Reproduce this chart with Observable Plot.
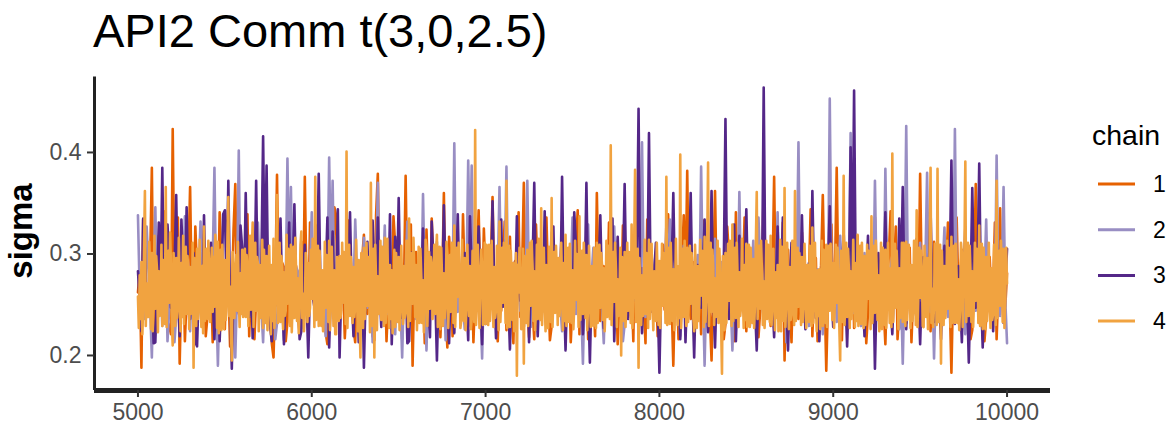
<!DOCTYPE html>
<html>
<head>
<meta charset="utf-8">
<script src="https://cdn.jsdelivr.net/npm/d3@7"></script>
<script src="https://cdn.jsdelivr.net/npm/@observablehq/plot@0.6"></script>
<style>
  html, body { margin: 0; padding: 0; background: #fff; }
  #fig { position: relative; width: 1176px; height: 428px; overflow: hidden;
         font-family: "Liberation Sans", Arial, Helvetica, sans-serif; }
  #title { position: absolute; left: 93px; top: 7px; font-size: 47px; line-height: 1;
           color: #000; white-space: nowrap; }
  #chart { position: absolute; left: 0; top: 62px; }
  #ylab { position: absolute; left: 20px; top: 231px; font-size: 33px; font-weight: bold;
          line-height: 1; color: #000; white-space: nowrap;
          transform: translate(-50%, -50%) rotate(-90deg); }
  #legend { position: absolute; left: 1070px; top: 100px; }
</style>
</head>
<body>
<div id="fig">
  <div id="title"></div>
  <div id="chart"></div>
  <div id="ylab"></div>
  <svg id="legend" width="106" height="240"></svg>
</div>
<script>
// Posterior draws of sigma over iterations 5000 .. 10000 (thinned per chain).
const titleText = "API2 Comm t(3,0,2.5)";
const parameterName = "sigma";
const legendTitle = "chain";
const chains = ["1", "2", "3", "4"];
const chainColors = ["#e66101", "#998ec3", "#542788", "#f1a340"];
const firstIteration = 5000;
const lastIteration = 10000;
const xTicks = [5000, 6000, 7000, 8000, 9000, 10000];
const yTicks = [0.2, 0.3, 0.4];

// every 10th iteration
const sigmaChain1 = [
  .262,.284,.188,.334,.301,.238,.244,.291,.385,.218,.236,.279,.318,.241,.251,.342,.289,.233,.229,.221,
  .423,.258,.247,.336,.192,.268,.296,.214,.258,.289,.366,.252,.231,.327,.284,.246,.262,.298,.307,.219,
  .239,.282,.276,.213,.331,.261,.248,.341,.292,.255,.226,.292,.271,.209,.253,.324,.369,.247,.241,.273,
  .298,.247,.262,.339,.219,.271,.305,.216,.257,.294,.281,.251,.236,.318,.322,.259,.245,.212,.198,.263,
  .378,.249,.254,.291,.287,.214,.233,.344,.301,.258,.266,.288,.242,.221,.312,.247,.376,.261,.229,.331,
  .283,.256,.249,.328,.305,.244,.261,.283,.222,.211,.293,.246,.255,.346,.338,.252,.238,.289,.274,.217,
  .251,.333,.296,.259,.227,.213,.286,.248,.263,.295,.319,.256,.241,.288,.278,.219,.215,.338,.379,.262,
  .244,.278,.291,.214,.257,.284,.233,.337,.308,.249,.265,.291,.216,.262,.377,.255,.271,.329,.190,.273,
  .302,.258,.248,.281,.276,.212,.324,.267,.236,.335,.289,.252,.258,.286,.218,.264,.360,.248,.208,.317,
  .287,.219,.253,.292,.311,.258,.241,.339,.273,.249,.229,.281,.298,.213,.262,.287,.343,.266,.237,.325,
  .279,.253,.246,.289,.356,.261,.231,.214,.268,.244,.294,.332,.225,.286,.317,.251,.212,.293,.282,.341,
  .238,.283,.370,.257,.249,.218,.291,.246,.216,.329,.276,.254,.306,.268,.243,.336,.268,.215,.229,.276,
  .296,.247,.258,.284,.332,.263,.237,.291,.281,.213,.252,.279,.308,.343,.221,.268,.273,.249,.291,.216,
  .245,.287,.263,.219,.360,.272,.234,.281,.288,.243,.255,.331,.314,.256,.228,.275,.211,.258,.247,.328,
  .301,.254,.239,.278,.268,.214,.326,.262,.244,.283,.286,.249,.212,.334,.297,.243,.259,.288,.275,.219,
  .233,.277,.309,.245,.251,.339,.283,.256,.190,.268,.272,.216,.243,.289,.338,.262,.382,.253,.236,.281,
  .292,.249,.256,.277,.221,.333,.313,.251,.264,.239,.195,.273,.362,.258,.248,.287,.285,.216,.231,.327,
  .299,.261,.257,.214,.341,.252,.239,.275,.278,.336,.224,.283,.293,.254,.262,.291,.316,.218,.245,.268,
  .370,.262,.253,.284,.229,.271,.376,.249,.266,.292,.242,.331,.195,.277,.304,.255,.213,.286,.288,.243,
  .236,.274,.321,.258,.247,.282,.275,.344,.219,.269,.296,.214,.263,.289,.358,.266,.185,.257,.282,.329,
  .249,.281,.385,.263,.234,.215,.301,.247,.257,.288,.272,.338,.227,.279,.318,.249,.261,.284,.293,.212,
  .242,.289,.284,.251,.336,.268,.238,.286,.276,.247,.211,.274,.298,.342,.255,.283,.327,.216,.246,.291,
  .281,.256,.232,.279,.306,.213,.259,.286,.271,.253,.379,.264,.243,.277,.289,.332,.224,.268,.312,.258,
  .254,.287,.277,.249,.239,.281,.331,.256,.183,.272,.286,.336,.262,.279,.304,.253,.241,.288,.268,.216,
  .225,.271,.369,.254,.258,.286,.283,.214,.236,.278,.297,.257,.264,.331,.216,.267,.345,.259,.273,.248,
  .281
];

// every 10th iteration
const sigmaChain2 = [
  .338,.262,.257,.284,.236,.327,.288,.249,.198,.276,.346,.253,.261,.287,.229,.268,.302,.214,.247,.279,
  .284,.213,.239,.281,.315,.262,.253,.337,.271,.246,.224,.273,.296,.257,.258,.283,.332,.254,.241,.286,
  .279,.248,.262,.291,.385,.258,.190,.267,.286,.253,.245,.289,.307,.261,.233,.274,.198,.265,.402,.249,
  .256,.283,.291,.252,.238,.277,.318,.259,.249,.331,.275,.247,.213,.269,.299,.254,.264,.281,.287,.216,
  .232,.276,.309,.249,.215,.268,.394,.281,.366,.255,.252,.287,.283,.246,.227,.272,.296,.258,.261,.279,
  .341,.264,.238,.285,.273,.247,.256,.282,.219,.266,.395,.288,.372,.257,.244,.279,.289,.251,.262,.284,
  .231,.269,.304,.255,.258,.334,.278,.249,.226,.274,.316,.263,.247,.288,.285,.213,.239,.276,.370,.261,
  .255,.281,.328,.257,.241,.286,.269,.248,.221,.271,.301,.254,.198,.268,.283,.332,.252,.289,.294,.262,
  .236,.279,.277,.253,.359,.268,.205,.274,.288,.251,.249,.285,.312,.262,.234,.277,.271,.215,.258,.283,
  .297,.264,.409,.259,.243,.287,.281,.252,.226,.275,.392,.283,.387,.261,.251,.288,.276,.249,.197,.271,
  .289,.257,.248,.283,.318,.254,.237,.279,.366,.266,.259,.284,.386,.258,.232,.271,.274,.249,.296,.263,
  .244,.278,.281,.255,.372,.264,.228,.283,.267,.249,.305,.258,.239,.276,.291,.254,.256,.287,.321,.261,
  .247,.286,.278,.251,.224,.277,.299,.256,.262,.281,.336,.259,.241,.288,.273,.248,.192,.269,.288,.329,
  .253,.279,.306,.262,.236,.284,.279,.247,.212,.273,.294,.255,.258,.289,.327,.261,.245,.276,.283,.214,
  .231,.274,.297,.253,.264,.287,.318,.258,.249,.279,.410,.266,.238,.284,.285,.251,.257,.288,.302,.259,
  .226,.272,.289,.254,.251,.283,.334,.261,.243,.286,.276,.249,.219,.271,.308,.256,.262,.284,.281,.253,
  .246,.277,.299,.259,.386,.265,.190,.268,.274,.289,.258,.247,.315,.262,.237,.278,.292,.251,.253,.286,
  .282,.254,.205,.271,.296,.258,.361,.266,.244,.287,.279,.252,.231,.275,.313,.259,.257,.336,.286,.248,
  .239,.276,.302,.255,.264,.286,.227,.269,.341,.261,.252,.284,.288,.213,.235,.278,.297,.256,.268,.281,
  .410,.262,.247,.288,.283,.253,.229,.276,.306,.249,.258,.285,.274,.251,.221,.269,.295,.257,.453,.272,
  .261,.284,.233,.274,.318,.255,.249,.287,.286,.257,.419,.268,.242,.281,.277,.248,.229,.273,.301,.262,
  .256,.281,.289,.251,.372,.263,.238,.284,.268,.253,.384,.272,.245,.286,.297,.254,.263,.279,.226,.268,
  .192,.274,.426,.262,.251,.279,.288,.248,.236,.283,.311,.257,.259,.286,.380,.265,.243,.277,.197,.269,
  .284,.259,.252,.287,.326,.253,.238,.276,.271,.248,.423,.264,.247,.282,.293,.256,.221,.273,.276,.251,
  .302,.262,.244,.285,.269,.251,.216,.274,.334,.258,.257,.283,.281,.249,.397,.268,.239,.279,.366,.254,
  .212
];

// every 10th iteration
const sigmaChain3 = [
  .283,.254,.224,.335,.305,.252,.248,.286,.276,.212,.213,.268,.331,.262,.385,.257,.242,.329,.296,.247,
  .255,.283,.358,.261,.219,.334,.287,.251,.346,.264,.236,.279,.301,.213,.209,.266,.274,.253,.338,.259,
  .244,.288,.311,.256,.216,.273,.289,.214,.262,.339,.343,.266,.372,.251,.187,.269,.278,.245,.251,.328,
  .305,.258,.360,.272,.238,.281,.217,.264,.372,.251,.263,.289,.416,.273,.387,.254,.229,.214,.294,.249,
  .257,.284,.335,.259,.211,.268,.282,.331,.246,.279,.349,.263,.269,.216,.224,.276,.309,.255,.198,.271,
  .288,.253,.243,.282,.379,.266,.231,.274,.276,.336,.208,.265,.322,.258,.259,.344,.198,.267,.297,.252,
  .264,.287,.341,.261,.219,.272,.285,.213,.252,.281,.188,.263,.312,.256,.241,.333,.278,.253,.336,.268,
  .228,.276,.296,.251,.255,.339,.211,.267,.317,.259,.355,.264,.237,.286,.283,.212,.214,.271,.302,.256,
  .261,.284,.239,.268,.325,.257,.276,.251,.218,.332,.293,.262,.195,.266,.287,.253,.348,.271,.246,.212,
  .273,.249,.222,.276,.339,.264,.259,.282,.301,.254,.215,.337,.284,.256,.243,.279,.327,.258,.211,.283,
  .231,.272,.305,.257,.352,.266,.217,.274,.279,.334,.248,.286,.318,.259,.206,.268,.291,.253,.337,.262,
  .254,.281,.228,.269,.296,.213,.264,.287,.370,.258,.219,.273,.283,.255,.342,.266,.236,.278,.301,.327,
  .247,.276,.288,.254,.376,.263,.205,.268,.271,.283,.233,.341,.309,.258,.256,.279,.221,.264,.370,.259,
  .193,.267,.286,.253,.245,.281,.338,.262,.227,.273,.299,.256,.262,.335,.214,.269,.317,.257,.251,.278,
  .369,.262,.236,.279,.281,.254,.258,.286,.443,.265,.222,.271,.297,.258,.419,.263,.243,.282,.311,.254,
  .183,.268,.276,.253,.329,.264,.238,.281,.360,.262,.257,.279,.216,.268,.302,.213,.268,.287,.360,.259,
  .198,.271,.289,.256,.247,.283,.334,.261,.223,.274,.362,.258,.208,.269,.293,.252,.255,.282,.433,.264,
  .236,.281,.278,.329,.214,.266,.318,.259,.262,.284,.344,.261,.229,.276,.287,.249,.205,.272,.306,.258,
  .464,.266,.241,.283,.296,.256,.218,.271,.327,.262,.259,.336,.282,.251,.205,.268,.311,.255,.246,.279,
  .274,.253,.338,.264,.226,.277,.291,.251,.362,.268,.237,.282,.214,.266,.303,.257,.263,.286,.347,.261,
  .228,.271,.285,.254,.251,.281,.322,.259,.209,.268,.405,.272,.461,.264,.243,.283,.296,.256,.219,.274,
  .318,.257,.262,.284,.187,.266,.301,.253,.239,.278,.341,.262,.272,.249,.221,.269,.289,.258,.335,.271,
  .366,.262,.226,.274,.284,.255,.248,.281,.315,.264,.211,.268,.297,.253,.259,.286,.343,.265,.233,.276,
  .279,.251,.216,.269,.308,.262,.254,.283,.392,.267,.231,.274,.288,.256,.213,.271,.326,.259,.193,.266,
  .365,.271,.247,.284,.389,.262,.208,.266,.296,.255,.262,.283,.224,.269,.318,.257,.251,.279,.232,.268,
  .305
];

// every 5th iteration
const sigmaChain4 = [
  .258,.227,.279,.236,.292,.221,.247,.306,.362,.229,.271,.238,.238,.312,.289,.226,.301,.224,.253,.318,.246,.298,.284,.223,.283,.239,.241,.309,.229,.294,.276,.231,.366,.228,.262,.303,.252,.321,.287,.232,
  .210,.301,.274,.229,.296,.237,.249,.316,.263,.224,.291,.238,.318,.231,.255,.307,.241,.298,.282,.226,.287,.241,.246,.311,.188,.296,.268,.229,.305,.236,.251,.314,.254,.228,.288,.222,.327,.234,.259,.305,
  .236,.313,.284,.233,.279,.306,.243,.297,.248,.319,.292,.227,.312,.222,.256,.304,.225,.309,.277,.226,.294,.235,.249,.317,.356,.239,.268,.224,.195,.302,.273,.237,.286,.299,.244,.312,.259,.228,.281,.241,
  .304,.238,.252,.305,.238,.299,.286,.229,.273,.318,.245,.302,.331,.228,.263,.311,.244,.297,.291,.224,.289,.237,.248,.314,.227,.304,.279,.232,.298,.225,.251,.308,.262,.221,.289,.234,.315,.227,.254,.299,
  .358,.232,.266,.311,.233,.298,.287,.226,.282,.239,.244,.319,.251,.305,.293,.229,.309,.223,.256,.307,.237,.316,.281,.234,.276,.222,.249,.309,.322,.237,.261,.224,.243,.301,.288,.233,.291,.239,.247,.304,
  .256,.315,.282,.228,.376,.235,.258,.308,.229,.303,.274,.229,.284,.224,.246,.312,.247,.299,.291,.233,.313,.225,.257,.307,.265,.229,.284,.221,.221,.297,.271,.234,.298,.237,.245,.311,.252,.302,.286,.231,
  .401,.227,.263,.309,.239,.297,.282,.232,.287,.238,.248,.314,.261,.224,.294,.237,.198,.301,.267,.227,.306,.236,.252,.311,.249,.297,.283,.223,.370,.229,.259,.305,.198,.309,.272,.225,.278,.241,.253,.313,
  .235,.307,.279,.229,.316,.232,.254,.315,.257,.227,.289,.236,.284,.222,.245,.304,.228,.301,.276,.233,.297,.225,.251,.308,.266,.231,.288,.237,.243,.313,.273,.228,.335,.234,.262,.301,.251,.316,.284,.238,
  .289,.225,.254,.307,.232,.305,.278,.232,.274,.223,.247,.314,.306,.229,.263,.302,.246,.297,.289,.236,.262,.309,.241,.301,.319,.228,.258,.307,.226,.306,.272,.229,.281,.237,.249,.312,.301,.227,.259,.299,
  .243,.311,.286,.232,.328,.228,.257,.306,.258,.311,.281,.227,.234,.314,.268,.234,.296,.225,.249,.309,.271,.239,.288,.226,.236,.303,.274,.233,.422,.230,.262,.309,.255,.227,.279,.304,.287,.230,.252,.311,
  .231,.309,.277,.230,.309,.234,.256,.313,.264,.228,.287,.237,.245,.308,.279,.225,.332,.233,.258,.306,.252,.311,.284,.232,.372,.227,.263,.308,.228,.303,.275,.235,.291,.224,.248,.301,.180,.289,.262,.306,
  .276,.226,.251,.305,.192,.298,.266,.232,.304,.229,.257,.311,.249,.313,.286,.234,.283,.225,.246,.309,.236,.315,.278,.235,.345,.230,.261,.306,.258,.224,.289,.237,.227,.307,.269,.233,.355,.228,.258,.302,
  .242,.308,.281,.230,.296,.239,.252,.311,.268,.225,.291,.234,.319,.229,.257,.306,.233,.310,.276,.232,.284,.226,.248,.313,.255,.300,.287,.228,.337,.235,.263,.303,.241,.311,.279,.237,.299,.225,.253,.308,
  .262,.228,.288,.233,.229,.306,.271,.227,.311,.232,.258,.309,.247,.301,.289,.235,.286,.224,.249,.313,.238,.308,.277,.236,.407,.230,.264,.302,.253,.311,.285,.228,.275,.239,.248,.306,.200,.297,.269,.234,
  .302,.228,.256,.311,.244,.302,.283,.232,.329,.227,.262,.309,.383,.233,.257,.305,.188,.296,.266,.230,.279,.239,.251,.314,.241,.301,.287,.227,.314,.236,.259,.310,.257,.225,.283,.243,.234,.311,.274,.230,
  .293,.227,.253,.310,.249,.301,.286,.232,.376,.230,.262,.306,.231,.311,.277,.234,.285,.225,.247,.315,.262,.230,.288,.237,.398,.227,.266,.305,.238,.313,.281,.229,.306,.233,.257,.308,.251,.301,.284,.237,
  .224,.309,.272,.227,.288,.234,.251,.314,.259,.303,.284,.228,.317,.233,.256,.308,.390,.229,.263,.311,.243,.304,.286,.230,.276,.238,.248,.313,.232,.305,.279,.232,.182,.298,.261,.225,.301,.232,.257,.310,
  .254,.313,.283,.229,.329,.234,.256,.306,.237,.311,.276,.228,.282,.239,.249,.315,.261,.227,.289,.235,.310,.228,.258,.309,.228,.306,.274,.232,.295,.227,.251,.311,.361,.236,.266,.308,.246,.313,.281,.230,
  .273,.227,.249,.313,.236,.309,.284,.233,.318,.230,.259,.305,.257,.225,.282,.237,.289,.224,.248,.314,.224,.307,.271,.234,.365,.228,.262,.311,.263,.226,.287,.235,.241,.313,.276,.230,.362,.234,.259,.306,
  .248,.301,.283,.230,.297,.233,.255,.310,.271,.227,.289,.238,.233,.308,.272,.229,.326,.232,.261,.311,.256,.224,.284,.239,.285,.226,.247,.313,.229,.304,.276,.232,.309,.228,.253,.308,.244,.310,.282,.235,
  .291,.227,.258,.309,.252,.306,.279,.229,.195,.303,.267,.233,.377,.230,.262,.311,.238,.305,.286,.227,.283,.236,.249,.314,.264,.228,.291,.234,.319,.229,.254,.308,.231,.311,.277,.227,.298,.230,.251,.309,
  .256,.303,.288,.226,.337,.232,.259,.308,.242,.313,.285,.235,.279,.224,.248,.311,.226,.306,.274,.230,.304,.227,.257,.311,.261,.232,.286,.228,.399,.233,.263,.310,.247,.303,.279,.226,.286,.237,.253,.311,
  .233,.311,.277,.229,.312,.235,.256,.309,.269,.227,.289,.234,.244,.313,.278,.230,.343,.228,.262,.306,.257,.303,.284,.229,.228,.308,.271,.238,.296,.226,.254,.311,.385,.232,.266,.228,.251,.310,.283,.230,
  .384,.233,.259,.309,.192,.303,.268,.230,.288,.237,.253,.313,.246,.306,.285,.228,.317,.232,.261,.308,.232,.310,.276,.232,.275,.225,.249,.311,.301,.228,.263,.306,.391,.233,.257,.311,.239,.308,.281,.233,
  .283,.228,.256,.311,.254,.305,.287,.232,.328,.229,.259,.310,.226,.306,.272,.226,.297,.234,.251,.311,.262,.227,.286,.235,.241,.309,.274,.230,.372,.237,.262,.303,.249,.313,.283,.233,.305,.227,.258,.306,
  .271
];

const chainValues = [sigmaChain1, sigmaChain2, sigmaChain3, sigmaChain4];

// Long-format table: one row per (chain, iteration); draws are evenly spaced
const draws = chains.flatMap((c, k) => {
  const vals = chainValues[k];
  const step = (lastIteration - firstIteration) / (vals.length - 1);
  return vals.map((v, i) => ({chain: c, iteration: firstIteration + step * i, value: v}));
});

const xDomain = [4750, 10250];
const yDomain = [0.1655, 0.4768];
const axisInk = "#222222";
const tickInk = "#333333";
const labelInk = "#4d4d4d";

const chart = Plot.plot({
  width: 1176,
  height: 366,
  marginLeft: 94,
  marginRight: 126,
  marginTop: 12,
  marginBottom: 38,
  style: {fontFamily: "'Liberation Sans', Arial, Helvetica, sans-serif", background: "transparent", overflow: "visible"},
  x: {domain: xDomain},
  y: {domain: yDomain},
  color: {domain: chains, range: chainColors},
  marks: [
    // chains drawn in order so that chain 4 ends up on top
    ...chains.map(c => Plot.line(draws.filter(d => d.chain === c), {
      x: "iteration", y: "value", stroke: "chain", strokeWidth: 2.6,
      strokeLinejoin: "round", strokeLinecap: "round"
    })),
    Plot.ruleX([xDomain[0]], {stroke: axisInk, strokeWidth: 3, y1: yDomain[0], y2: yDomain[1], insetBottom: -2.5}),
    Plot.ruleY([yDomain[0]], {stroke: axisInk, strokeWidth: 5}),
    Plot.axisX({
      ticks: xTicks, tickFormat: d => String(d), tickSize: 7, tickPadding: 6,
      fontSize: 23, stroke: tickInk, strokeWidth: 2, fill: labelInk, label: null
    }),
    Plot.axisY({
      ticks: yTicks, tickFormat: d3.format(".1f"), tickSize: 7, tickPadding: 6,
      fontSize: 23, stroke: tickInk, strokeWidth: 2, fill: labelInk, label: null
    })
  ]
});
document.getElementById("chart").appendChild(chart);
document.getElementById("title").textContent = titleText;
document.getElementById("ylab").textContent = parameterName;

// Legend: a short line sample per chain
const legend = d3.select("#legend")
  .style("font-family", "'Liberation Sans', Arial, Helvetica, sans-serif");
legend.append("text")
  .attr("x", 22).attr("y", 45)
  .attr("font-size", 28.5).attr("fill", "#000")
  .text(legendTitle);
chains.forEach((c, k) => {
  const cy = 84 + k * 45.7;
  legend.append("line")
    .attr("x1", 28).attr("x2", 65).attr("y1", cy).attr("y2", cy)
    .attr("stroke", chainColors[k]).attr("stroke-width", 3);
  legend.append("text")
    .attr("x", 83).attr("y", cy).attr("dy", "0.35em")
    .attr("font-size", 23).attr("fill", "#000")
    .text(c);
});
</script>
</body>
</html>
